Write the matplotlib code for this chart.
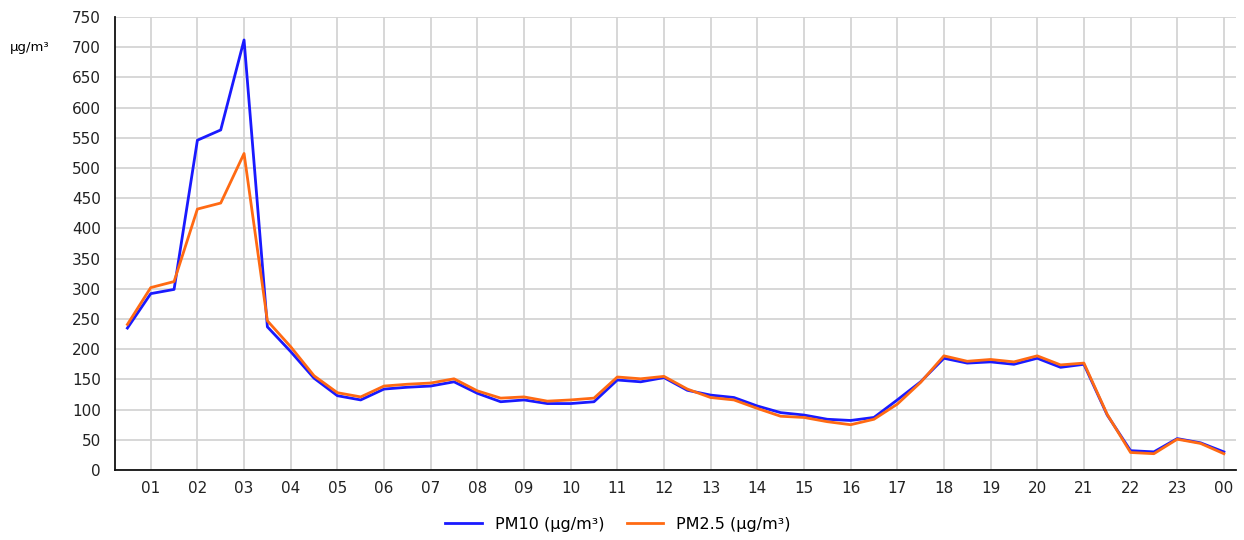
import numpy as np
import matplotlib
matplotlib.use("Agg")
import matplotlib.pyplot as plt

# half-hour readings, 00:30 .. 24:00
hours = np.arange(1, 49) * 0.5
pm10 = [235, 292, 299, 546, 563, 712, 237, 196, 152, 123, 116, 134,
        137, 139, 146, 127, 113, 116, 110, 110, 113, 149, 146, 153,
        132, 124, 120, 106, 95, 91, 84, 82, 87, 116, 146, 185,
        177, 179, 175, 185, 170, 175, 91, 32, 30, 52, 45, 30]
pm25 = [241, 302, 312, 432, 442, 524, 247, 204, 156, 128, 121, 139,
        142, 144, 151, 131, 119, 121, 114, 116, 119, 154, 151, 155,
        134, 120, 116, 102, 89, 87, 80, 75, 84, 109, 145, 189,
        180, 183, 179, 189, 174, 177, 92, 29, 27, 51, 44, 27]
tick_hours = list(range(1, 25))
tick_labels = ["%02d" % (h % 24) for h in tick_hours]

plt.rcParams['font.family'] = ['DejaVu Sans']

fig = plt.figure(figsize=(12.44, 5.4), dpi=100)
ax = fig.add_axes([115 / 1244, 70 / 540, 1121 / 1244, 453 / 540])

ax.plot(hours, pm10, color='#1a1aff', lw=2.0, label='PM10 (µg/m³)')
ax.plot(hours, pm25, color='#ff6a13', lw=2.0, label='PM2.5 (µg/m³)')

ax.set_xlim(0.234, 24.26)
ax.set_ylim(0, 750)
ax.set_yticks(range(0, 751, 50))
ax.set_xticks(tick_hours)
ax.set_xticklabels(tick_labels)
ax.tick_params(length=0, labelsize=11, colors='#222222')
ax.tick_params(axis='y', pad=10)
ax.tick_params(axis='x', pad=8)
ax.grid(True, color='#d4d4d4', lw=1.3)
ax.set_axisbelow(True)
for s in ['top', 'right']:
    ax.spines[s].set_visible(False)
for s in ['left', 'bottom']:
    ax.spines[s].set_color('#111111')
    ax.spines[s].set_linewidth(1.3)

fig.text(10 / 1244, 1 - 47 / 540, 'µg/m³', fontsize=9.5, va='center', ha='left')

fig.legend(loc='center', bbox_to_anchor=(618 / 1244, 1 - 524 / 540), ncol=2,
           frameon=False, fontsize=11.5, handlelength=2.3, handletextpad=0.8,
           columnspacing=1.4)

fig.savefig('out.png', dpi=100)
